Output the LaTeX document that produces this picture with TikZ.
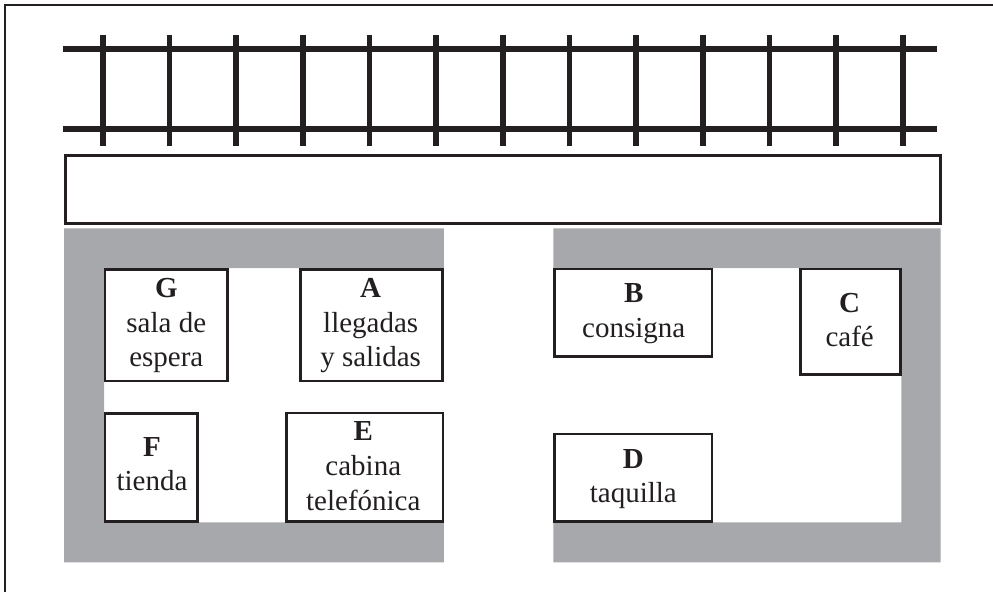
\documentclass[tikz,border=0pt]{standalone}
\usepackage{fontspec}
\setmainfont{Liberation Serif}
\usetikzlibrary{calc}
\definecolor{ink}{HTML}{231F20}
\definecolor{wall}{HTML}{A7A8AB}
\tikzset{
  x=1pt,y=-1pt,
  rail/.style={draw=ink,line width=5.7pt},
  frameline/.style={draw=ink,line width=1.6pt},
  platform/.style={draw=ink,line width=2.7pt,fill=white},
  wallblock/.style={fill=wall},
  roombox/.style={draw=ink,line width=2.6pt,fill=white,inner sep=0pt,outer sep=0pt},
  roomtext/.style={text=ink,font=\fontsize{29}{34.7}\selectfont,align=center,inner sep=0pt,outer sep=0pt,anchor=base},
}
% name, left, top, right, bottom (centre of stroke), text x, last baseline y, text
\newcommand{\roomnode}[8]{%
  \path let \n1={#4-#2},\n2={#5-#3} in
    node[roombox,minimum width=\n1*1pt,minimum height=\n2*1pt,anchor=north west] (#1) at (#2,#3) {};
  \node[roomtext] (#1t) at (#6,#7) {#8};
}
\begin{document}
\begin{tikzpicture}
\useasboundingbox (0,0) rectangle (993,592);
% outer frame
\coordinate (fa) at (993,4.8);
\coordinate (fb) at (5,4.8);
\coordinate (fc) at (5,592);
\draw[frameline] (fa) -- (fb) -- (fc);
% sleepers
\foreach \i in {0,...,12}{
  \coordinate (st\i) at ({102.8+\i*66.68},35);
  \coordinate (sb\i) at ({102.8+\i*66.68},146);
  \draw[rail] (st\i) -- (sb\i);
}
% rails
\coordinate (r1a) at (63.3,48.7); \coordinate (r1b) at (936.7,48.7);
\coordinate (r2a) at (63.3,129);  \coordinate (r2b) at (936.7,129);
\draw[rail] (r1a) -- (r1b);
\draw[rail] (r2a) -- (r2b);
% platform
\draw[platform] (65.2,155.5) rectangle (940.6,223.8);
% walls
\path[wallblock] (64,228.3) -- (443.8,228.3) -- (443.8,268) -- (104,268) -- (104,522.3) -- (443.8,522.3) -- (443.8,562.3) -- (64,562.3) -- cycle;
\path[wallblock] (553.3,228.3) -- (940.7,228.3) -- (940.7,562.3) -- (553.3,562.3) -- (553.3,522.3) -- (901.3,522.3) -- (901.3,268) -- (553.3,268) -- cycle;
% rooms
\roomnode{G}{105}{269.5}{227.6}{381}{166.3}{366.7}{\textbf{G}\\sala de\\espera}
\roomnode{A}{300.7}{269.5}{442.2}{381}{370.7}{366.7}{\textbf{A}\\llegadas\\y salidas}
\roomnode{F}{105}{413.5}{197.5}{521.5}{152}{490.7}{\textbf{F}\\tienda}
\roomnode{E}{286.2}{413}{443}{521.5}{363.3}{510}{\textbf{E}\\cabina\\telefónica}
\roomnode{B}{554.6}{269}{711.8}{356.5}{633.7}{337.3}{\textbf{B}\\consigna}
\roomnode{C}{800.6}{268.9}{900.2}{374.5}{849.7}{346.7}{\textbf{C}\\café}
\roomnode{D}{554.6}{434}{711.8}{521.7}{633.3}{502.7}{\textbf{D}\\taquilla}
\end{tikzpicture}
\end{document}
